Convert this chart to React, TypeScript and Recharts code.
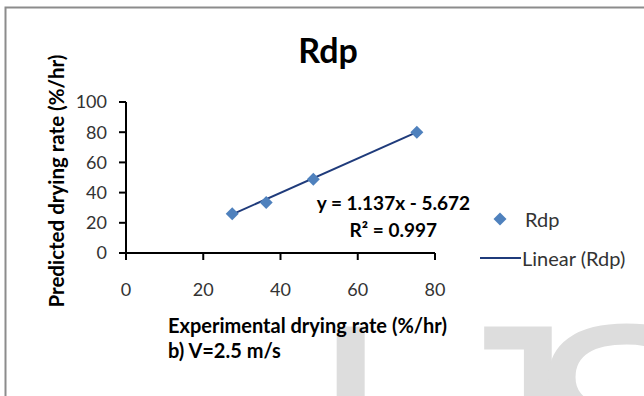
import React from "react";
import { ScatterChart, Scatter, XAxis, YAxis } from "recharts";

const expRate = [27.5, 36.3, 48.5, 75.3];
const predRate = [26.0, 33.5, 48.8, 80.0];
const trendX = [27.5, 75.3];
const trendY = [25.6, 80.0];
const xTicks = [0, 20, 40, 60, 80];
const yTicks = [0, 20, 40, 60, 80, 100];
const seriesName = "Rdp";
const trendName = "Linear (Rdp)";
const title = "Rdp";
const equation = "y = 1.137x - 5.672";
const rSquared = "R² = 0.997";
const xLabel = "Experimental drying rate (%/hr)";
const yLabel = "Predicted drying rate (%/hr)";
const subCaption = "b) V=2.5 m/s";
const watermark = ["I", "J", "S"];

const points = expRate.map((x, i) => ({ x, y: predRate[i] }));
const trend = trendX.map((x, i) => ({ x, y: trendY[i] }));

const FONT = "Lato, 'Open Sans', sans-serif";
const MARK = "#4F81BD";
const TREND = "#1F3B7B";

const Diamond = (props: any) => {
  const { cx, cy } = props;
  if (cx == null || cy == null) return null;
  const r = 6.5;
  return (
    <path
      d={`M${cx},${cy - r} L${cx + r},${cy} L${cx},${cy + r} L${cx - r},${cy} Z`}
      fill={MARK}
    />
  );
};

const NoShape = () => null;

const wmX = [309, 424, 525];

export default function App() {
  return (
    <div style={{ position: "absolute", left: 0, top: 0, width: 644, height: 396, background: "#fff", overflow: "hidden" }}>
      <svg width={644} height={396} style={{ position: "absolute", left: 0, top: 0 }}>
        {watermark.map((ch, i) => (
          <text key={ch} x={wmX[i]} y={533} fontFamily="'Liberation Sans', Arial, sans-serif" fontSize={300} fill="#dddddd">
            {ch}
          </text>
        ))}
        <path d="M5.5,400 L5.5,7.5 L650,7.5" fill="none" stroke="#8c8c8c" strokeWidth={2} />
        <text x={328} y={63} textAnchor="middle" fontFamily={FONT} fontWeight={700} fontSize={34} fill="#000">
          {title}
        </text>
        <text x={470} y={202} textAnchor="end" dominantBaseline="central" fontFamily={FONT} fontWeight={700} fontSize={19} fill="#000">
          {equation}
        </text>
        <text x={437} y={229} textAnchor="end" dominantBaseline="central" fontFamily={FONT} fontWeight={700} fontSize={19} fill="#000">
          {rSquared}
        </text>
        <text x={168} y={325} dominantBaseline="central" fontFamily={FONT} fontWeight={700} fontSize={20} fill="#000">
          {xLabel}
        </text>
        <text x={168} y={350} dominantBaseline="central" fontFamily={FONT} fontWeight={700} fontSize={20} fill="#000">
          {subCaption}
        </text>
        <text
          x={56}
          y={181}
          transform="rotate(-90 56 181)"
          textAnchor="middle"
          dominantBaseline="central"
          fontFamily={FONT}
          fontWeight={700}
          fontSize={20.5}
          fill="#000"
        >
          {yLabel}
        </text>
        {/* legend */}
        <path d="M500,212.5 L506.5,219 L500,225.5 L493.5,219 Z" fill={MARK} />
        <text x={525} y={219} dominantBaseline="central" fontFamily={FONT} fontSize={20} fill="#333">
          {seriesName}
        </text>
        <line x1={480} y1={258} x2={521} y2={258} stroke={TREND} strokeWidth={2} />
        <text x={522} y={258} dominantBaseline="central" fontFamily={FONT} fontSize={20} fill="#333">
          {trendName}
        </text>
      </svg>
      <div style={{ position: "absolute", left: 0, top: 0 }}>
        <ScatterChart width={644} height={396} margin={{ top: 102, right: 209, bottom: 113, left: 76 }}>
          <XAxis
            type="number"
            dataKey="x"
            domain={[0, 80]}
            ticks={xTicks}
            interval={0}
            height={30}
            tickSize={7}
            tickMargin={23}
            axisLine={{ stroke: "#000", strokeWidth: 2 }}
            tickLine={{ stroke: "#000", strokeWidth: 2 }}
            tick={{ fill: "#333", fontSize: 18, fontFamily: FONT }}
            allowDataOverflow
          />
          <YAxis
            type="number"
            dataKey="y"
            domain={[0, 100]}
            ticks={yTicks}
            interval={0}
            width={50}
            tickSize={7}
            tickMargin={12}
            axisLine={{ stroke: "#000", strokeWidth: 2 }}
            tickLine={{ stroke: "#000", strokeWidth: 2 }}
            tick={{ fill: "#333", fontSize: 18, fontFamily: FONT }}
            allowDataOverflow
          />
          <Scatter
            name={trendName}
            data={trend}
            line={{ stroke: TREND, strokeWidth: 2 }}
            shape={<NoShape />}
            isAnimationActive={false}
          />
          <Scatter
            name={seriesName}
            data={points}
            shape={<Diamond />}
            isAnimationActive={false}
          />
        </ScatterChart>
      </div>
    </div>
  );
}
